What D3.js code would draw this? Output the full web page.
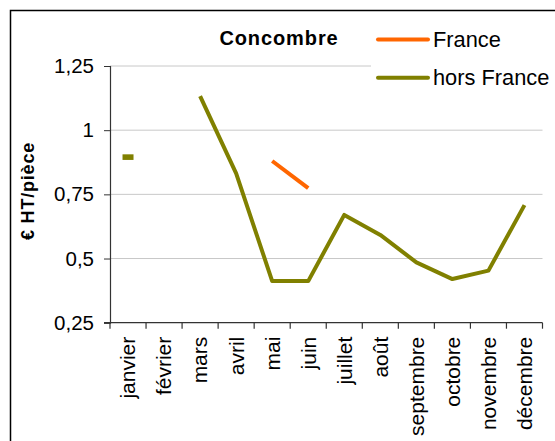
<!doctype html>
<html lang="fr">
<head>
<meta charset="utf-8">
<title>Concombre</title>
<style>
  body { margin: 0; background: #fff; }
  text { font-family: "Liberation Sans", Arial, sans-serif; }
</style>
</head>
<body>
<svg id="chart" width="555" height="441"></svg>

<script src="https://d3js.org/d3.v7.min.js"></script>
<script>
const months = ['janvier', 'février', 'mars', 'avril', 'mai', 'juin',
  'juillet', 'août', 'septembre', 'octobre', 'novembre', 'décembre'];
const france = [null, null, null, null, 0.88, 0.774, null, null, null, null, null, null];
const horsFrance = [0.895, null, 1.133, 0.832, 0.412, 0.412, 0.67, 0.592, 0.485, 0.42, 0.453, 0.708];
const yTicks = [0.25, 0.5, 0.75, 1, 1.25];
const seriesNames = ['France', 'hors France'];
const colors = ['#ff6600', '#808000'];

const svg = d3.select('#chart');
const fmt = d => String(d).replace('.', ',');

// outer frame (cut by window on right/bottom)
svg.append('rect')
  .attr('x', 10.5).attr('y', 10.5)
  .attr('width', 600).attr('height', 500)
  .attr('fill', '#fff').attr('stroke', '#000').attr('stroke-width', 1.5);

const x = d3.scaleBand().domain(months).range([110, 542.5]);
const y = d3.scaleLinear().domain([0.25, 1.25]).range([322.7, 66]);

// gridlines
svg.append('g').selectAll('line')
  .data(yTicks.filter(d => d > 0.25))
  .join('line')
  .attr('x1', 110).attr('x2', 542.5)
  .attr('y1', d => y(d)).attr('y2', d => y(d))
  .attr('stroke', '#c8c8c8').attr('stroke-width', 1);

// y axis
const yAxis = svg.append('g')
  .attr('transform', 'translate(110,0)')
  .call(d3.axisLeft(y).tickValues(yTicks).tickFormat(fmt).tickSize(6).tickPadding(10));
yAxis.select('.domain').attr('stroke', '#333').attr('stroke-width', 1.2);
yAxis.selectAll('.tick line').attr('stroke', '#333');
yAxis.selectAll('text').attr('font-size', 20.5).attr('fill', '#000')
  .attr('font-family', '"Liberation Sans", Arial, sans-serif');

// x axis with ticks on category boundaries
const xAxisG = svg.append('g').attr('transform', `translate(0,${y(0.25)})`);
xAxisG.append('line')
  .attr('x1', 104).attr('x2', 542.5)
  .attr('stroke', '#333').attr('stroke-width', 1.2);
xAxisG.selectAll('line.tk')
  .data(months.map(m => x(m)).concat([x.range()[1]]))
  .join('line').attr('class', 'tk')
  .attr('x1', d => d).attr('x2', d => d)
  .attr('y1', 0).attr('y2', 6)
  .attr('stroke', '#333').attr('stroke-width', 1.2);
xAxisG.selectAll('text')
  .data(months)
  .join('text')
  .attr('transform', d => `translate(${x(d) + x.bandwidth() / 2},14) rotate(-90)`)
  .attr('text-anchor', 'end')
  .attr('dy', '0.35em')
  .attr('font-size', 21)
  .text(d => d);

// y label
svg.append('text')
  .attr('transform', 'translate(28,191) rotate(-90)')
  .attr('text-anchor', 'middle')
  .attr('dy', '0.35em')
  .attr('font-size', 18).attr('font-weight', 'bold')
  .attr('letter-spacing', 0.8)
  .text('€ HT/pièce');

// title
svg.append('text')
  .attr('x', 279).attr('y', 45)
  .attr('text-anchor', 'middle')
  .attr('font-size', 20).attr('font-weight', 'bold')
  .attr('letter-spacing', 0.9)
  .text('Concombre');

// series
const cx = i => x(months[i]) + x.bandwidth() / 2;
const line = d3.line()
  .defined(d => d != null)
  .x((d, i) => cx(i))
  .y(d => y(d));

[france, horsFrance].forEach((s, k) => {
  svg.append('path')
    .datum(s)
    .attr('fill', 'none')
    .attr('stroke', colors[k])
    .attr('stroke-width', 4)
    .attr('stroke-linejoin', 'round')
    .attr('d', line);
  // isolated points shown as short dashes
  s.forEach((v, i) => {
    if (v == null) return;
    const prev = i > 0 ? s[i - 1] : null;
    const next = i < s.length - 1 ? s[i + 1] : null;
    if (prev == null && next == null) {
      svg.append('rect')
        .attr('x', cx(i) - 5.5).attr('y', y(v) - 2.8)
        .attr('width', 11).attr('height', 5.6)
        .attr('fill', colors[k]);
    }
  });
});

// legend
const legend = svg.append('g');
legend.append('rect')
  .attr('x', 371).attr('y', 18).attr('width', 184).attr('height', 80)
  .attr('fill', '#fff');
seriesNames.forEach((name, i) => {
  const ly = 39.5 + i * 38.3;
  legend.append('line')
    .attr('x1', 378).attr('x2', 428)
    .attr('y1', ly).attr('y2', ly)
    .attr('stroke', colors[i]).attr('stroke-width', 4)
    .attr('stroke-linecap', 'round');
  legend.append('text')
    .attr('x', 433).attr('y', ly)
    .attr('dy', '0.35em')
    .attr('font-size', 21.8)
    .text(name);
});
</script>
</body>
</html>
